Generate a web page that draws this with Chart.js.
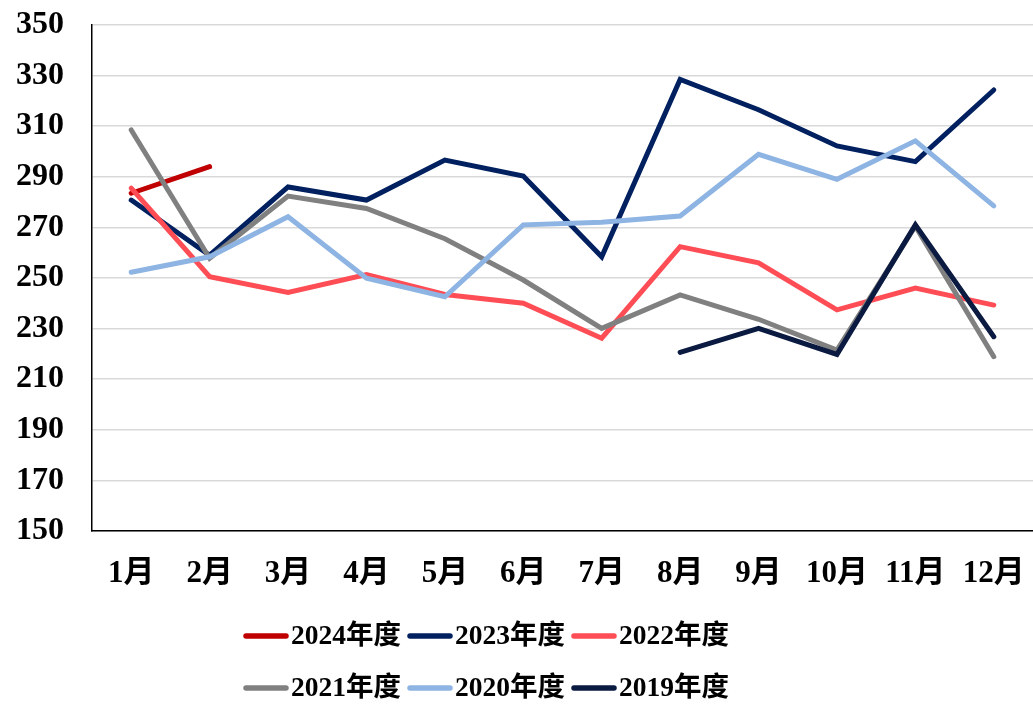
<!DOCTYPE html>
<html>
<head>
<meta charset="utf-8">
<script src="https://cdn.jsdelivr.net/npm/chart.js@4.4.1/dist/chart.umd.min.js"></script>
<style>
  html, body { margin: 0; padding: 0; background: #fff; }
  #wrap { width: 1033px; height: 705px; }
</style>
</head>
<body>
<div id="wrap"><canvas id="myChart" width="1033" height="705"></canvas></div>
<script>
var months = ["1月", "2月", "3月", "4月", "5月", "6月", "7月", "8月", "9月", "10月", "11月", "12月"];
var yTicks = [150, 170, 190, 210, 230, 250, 270, 290, 310, 330, 350];

var seriesNames = ["2024年度", "2023年度", "2022年度", "2021年度", "2020年度", "2019年度"];
var v2024 = [283.5, 294, null, null, null, null, null, null, null, null, null, null];
var v2023 = [280.8, 259, 286, 280.8, 296.6, 290.3, 258.4, 328.5, 316.5, 302.2, 296, 324.3];
var v2022 = [285.5, 250.5, 244.3, 251.4, 243.5, 240, 226.2, 262.4, 256, 237.4, 246, 239.3];
var v2021 = [308.5, 257.8, 282.4, 277.5, 265.5, 249.2, 230.1, 243.3, 233.7, 221.5, 270.5, 218.9];
var v2020 = [252.3, 258.4, 274.2, 249.9, 242.6, 271, 272, 274.5, 298.9, 289, 304.2, 278.5];
var v2019 = [null, null, null, null, null, null, null, 220.6, 230.1, 219.8, 271, 226.8];

var colors = ["#C00000", "#002060", "#FF4D55", "#808080", "#8DB4E2", "#0A1A40"];
var allValues = [v2024, v2023, v2022, v2021, v2020, v2019];

var FONT = "'Liberation Serif', 'Noto Sans CJK SC', serif";

var datasets = allValues.map(function (vals, i) {
  return {
    label: seriesNames[i],
    data: vals,
    borderColor: colors[i],
    backgroundColor: colors[i],
    borderWidth: 5,
    borderCapStyle: 'round',
    pointRadius: 0,
    tension: 0,
    spanGaps: false,
    order: allValues.length - i   // later series drawn on top, like the original
  };
});

// legend drawn by hand: 3 per row, two rows
var legendPlugin = {
  id: 'twoRowLegend',
  afterDraw: function (chart) {
    var ctx = chart.ctx;
    var sw = 46, gapText = 2, gapItem = 6;
    var rowsY = [636, 688];
    var centerX = 486;
    ctx.save();
    ctx.font = "bold 27.5px " + FONT;
    ctx.textBaseline = 'middle';
    ctx.textAlign = 'left';
    for (var r = 0; r < 2; r++) {
      var items = [0, 1, 2].map(function (k) { return r * 3 + k; });
      var total = 0;
      items.forEach(function (idx, k) {
        total += sw + gapText + ctx.measureText(seriesNames[idx]).width;
        if (k < 2) total += gapItem;
      });
      var x = centerX - total / 2;
      items.forEach(function (idx) {
        var y = rowsY[r];
        ctx.strokeStyle = colors[idx];
        ctx.lineWidth = 5.5;
        ctx.lineCap = 'round';
        ctx.beginPath();
        ctx.moveTo(x + 3, y);
        ctx.lineTo(x + sw - 3, y);
        ctx.stroke();
        ctx.fillStyle = '#000';
        ctx.fillText(seriesNames[idx], x + sw + gapText, y + 1);
        x += sw + gapText + ctx.measureText(seriesNames[idx]).width + gapItem;
      });
    }
    ctx.restore();
  }
};

var ctx = document.getElementById("myChart").getContext('2d');
var myChart = new Chart(ctx, {
  type: 'line',
  data: {
    labels: months,
    datasets: datasets
  },
  options: {
    responsive: false,
    animation: false,
    layout: { padding: { top: 25, right: 0, bottom: 94, left: 0 } },
    plugins: {
      legend: { display: false },
      tooltip: { enabled: false }
    },
    scales: {
      x: {
        offset: true,
        grid: { display: false, drawTicks: false },
        border: { display: true, color: '#000', width: 1.5 },
        ticks: {
          color: '#000',
          padding: 24,
          font: { family: FONT, size: 31, weight: 'bold' },
          maxRotation: 0,
          autoSkip: false
        },
        afterFit: function (scale) {
          scale.height = 80;
          scale.paddingLeft = 0;
          scale.paddingRight = 0;
        }
      },
      y: {
        min: 150,
        max: 350,
        afterBuildTicks: function (scale) {
          scale.ticks = yTicks.map(function (v) { return { value: v }; });
        },
        grid: { color: '#D9D9D9', lineWidth: 1.5, drawTicks: false },
        border: { display: true, color: '#000', width: 1.5 },
        ticks: {
          color: '#000',
          padding: 28,
          font: { family: FONT, size: 32, weight: 'bold' }
        },
        afterFit: function (scale) {
          scale.width = 92;
          scale.paddingTop = 0;
          scale.paddingBottom = 0;
        }
      }
    }
  },
  plugins: [legendPlugin]
});
</script>
</body>
</html>
